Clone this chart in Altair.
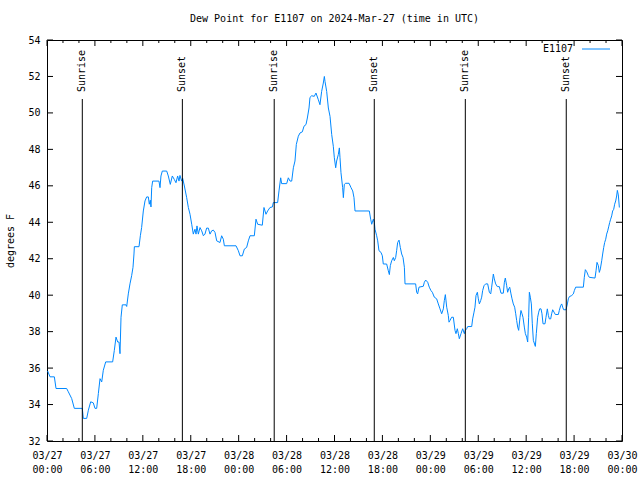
import altair as alt
import pandas as pd

FONT = "DejaVu Sans Mono"
W, H = 575, 401
LINE_COLOR = "#0088ff"

station = "E1107"
title_text = "Dew Point for E1107 on 2024-Mar-27 (time in UTC)"

# hours since 2024-03-27 00:00 UTC, dew point (F)
hours_a = [0.08, 0.38, 0.92, 1.13, 2.46, 2.67, 3.09, 3.42, 4.42, 4.55, 4.97, 5.18, 5.47, 5.80, 6.01, 6.22,
           6.43, 6.64, 6.85, 7.05, 7.35, 8.22, 8.43, 8.64, 8.85, 9.02, 9.14, 9.27, 9.43, 9.89, 9.98, 10.18,
           10.39, 10.60, 10.77, 10.89, 10.94, 11.52, 11.69, 11.85, 12.06, 12.27, 12.48, 12.69, 12.81, 12.94,
           13.02, 13.11, 13.23, 14.02, 14.15, 14.27, 14.44, 14.99, 15.19, 15.44, 15.69, 15.94, 16.15, 16.36,
           16.53, 16.65, 16.86, 16.99, 17.20, 17.49, 17.70]
dew_a = [35.84, 35.52, 35.52, 34.88, 34.88, 34.70, 34.33, 33.79, 33.79, 33.24, 33.24, 33.69, 34.15, 34.09,
         33.79, 33.79, 34.60, 35.42, 35.24, 35.88, 36.34, 36.34, 36.97, 37.70, 37.43, 37.43, 36.79, 38.79,
         39.47, 39.47, 39.38, 40.07, 40.62, 41.07, 41.53, 42.26, 42.66, 42.66, 43.26, 43.71, 44.62, 45.17,
         45.39, 45.39, 44.99, 45.21, 44.84, 45.90, 46.26, 46.26, 45.90, 46.54, 46.81, 46.81, 46.54, 46.08,
         46.54, 46.35, 46.17, 46.54, 46.26, 46.57, 46.26, 46.41, 45.99, 45.35, 44.81]

hours_b = [17.91, 18.12, 18.32, 18.53, 18.66, 18.78, 18.95, 19.16, 19.37, 19.58, 19.78, 19.99, 20.20, 20.41,
           20.62, 20.83, 21.04, 21.25, 21.66, 21.87, 22.08, 22.21, 23.67, 23.96, 24.17, 24.46, 24.71, 25.00,
           25.21, 25.42, 25.96, 26.17, 26.38, 26.96, 27.17, 27.42, 27.63, 27.92, 28.22, 28.34, 28.88, 29.05,
           29.26, 29.38, 30.01, 30.22, 30.43, 30.64, 30.85, 31.05, 31.22, 31.47, 31.68, 31.97, 32.18, 32.43,
           32.60, 32.81, 32.93, 33.14, 33.47, 33.68, 33.98, 34.18, 34.39, 34.60, 34.73]
dew_b = [44.44, 43.89, 43.35, 43.62, 43.35, 43.80, 43.35, 43.71, 43.53, 43.26, 43.35, 43.68, 43.68, 43.35,
         43.53, 43.57, 43.44, 42.98, 42.89, 43.26, 43.07, 42.71, 42.71, 42.44, 42.16, 42.16, 42.53, 42.62,
         42.98, 43.26, 43.26, 44.17, 43.89, 43.84, 44.81, 44.44, 44.62, 44.81, 44.84, 45.08, 45.08, 45.72,
         46.44, 46.12, 46.12, 46.44, 46.26, 46.26, 46.99, 47.36, 48.27, 48.72, 48.90, 48.96, 49.27, 49.36,
         49.72, 50.27, 50.85, 50.94, 50.91, 51.09, 50.72, 50.45, 51.18, 51.64, 52.00]

hours_c = [34.81, 35.02, 35.23, 35.44, 35.65, 35.85, 35.98, 36.15, 36.27, 36.48,
           36.61, 36.69, 36.81, 37.02, 37.11, 37.23, 37.40, 37.82, 38.07, 38.28,
           38.44, 38.57, 40.36, 40.53, 40.66, 40.86, 40.99, 41.07, 41.28, 41.41,
           41.57, 41.82, 41.99, 42.11, 42.53, 42.74, 42.87, 42.99, 43.16, 43.37,
           43.49, 43.66, 43.78, 43.91, 44.08, 44.24, 44.41, 44.58, 44.75, 44.83,
           46.16, 46.29, 46.41, 46.58, 47.12, 47.25, 47.42, 47.67, 47.87, 48.08,
           48.25, 48.50, 48.79, 49.00, 49.21, 49.42, 49.63, 49.75, 49.88, 50.05,
           50.25, 50.34, 50.46, 50.67, 50.88, 51.09, 51.21, 51.38, 51.51, 51.63,
           51.84, 52.05, 52.26, 52.38, 52.55, 52.68, 53.18, 53.30, 53.47, 53.59]
dew_c = [51.73, 51.18, 50.27, 49.81, 48.81, 48.17, 47.54, 46.99, 47.36, 47.72,
         48.08, 47.54, 46.72, 45.90, 45.35, 46.08, 46.14, 46.14, 45.90, 45.72,
         45.35, 44.62, 44.62, 44.17, 43.89, 44.17, 43.99, 43.62, 43.26, 42.98,
         42.44, 42.35, 42.16, 41.71, 41.71, 41.34, 41.13, 41.62, 41.89, 42.07,
         41.89, 42.07, 42.44, 42.89, 43.02, 42.62, 42.26, 42.07, 41.53, 40.62,
         40.62, 40.16, 40.07, 40.44, 40.49, 40.71, 40.83, 40.71, 40.44, 40.25,
         40.16, 39.89, 39.80, 39.52, 39.25, 38.98, 39.25, 39.70, 40.03, 39.34,
         38.89, 38.52, 38.61, 38.79, 38.79, 38.07, 37.89, 38.16, 37.89, 37.61,
         37.89, 38.16, 37.89, 38.07, 38.16, 38.28, 38.28, 38.70, 39.07, 39.34]

hours_d = [53.72, 53.89, 54.01, 54.14, 54.30, 54.43, 54.55, 54.72, 54.93, 55.18,
           55.39, 55.56, 55.68, 55.81, 55.89, 56.01, 56.18, 56.39, 56.64, 56.85,
           57.14, 57.27, 57.39, 57.56, 57.68, 57.81, 57.94, 58.10, 58.23, 58.39,
           58.56, 58.69, 58.81, 58.94, 59.06, 59.23, 59.35, 59.48, 59.60, 59.77,
           59.90, 60.06, 60.19, 60.31, 60.40, 60.52, 60.65, 60.77, 60.90, 61.15,
           61.27, 61.44, 61.57, 61.69, 61.86, 61.98, 62.11, 62.36, 62.48, 62.65,
           62.78, 62.90, 63.07, 63.19, 63.32, 63.49, 63.65, 64.03, 64.15, 64.32,
           64.45, 64.57, 64.70, 64.99, 65.16, 65.28, 65.41, 65.70, 65.91, 66.03,
           66.20, 67.16, 67.28, 67.41, 67.58, 67.78, 67.91, 68.62, 68.75, 68.87,
           69.04, 69.16, 69.29, 69.46, 69.58, 69.71, 69.83, 69.96, 70.08, 70.21,
           70.33, 70.46, 70.58, 70.71, 70.83, 70.96, 71.08, 71.21, 71.33, 71.42,
           71.54, 71.67]
dew_d = [39.98, 40.16, 39.80, 39.52, 39.70, 39.89, 40.25, 40.52, 40.62, 40.62,
         40.16, 40.07, 40.44, 40.89, 41.16, 40.89, 40.62, 40.47, 40.47, 40.11,
         40.11, 40.71, 40.94, 40.52, 40.16, 40.34, 40.44, 40.07, 39.80, 39.52,
         39.34, 38.98, 38.61, 38.25, 38.07, 38.79, 39.16, 38.98, 38.79, 38.25,
         37.89, 37.70, 37.43, 38.79, 40.16, 39.89, 39.52, 38.43, 37.52, 37.19,
         37.89, 38.79, 39.07, 39.25, 39.25, 38.98, 38.43, 38.43, 38.79, 39.25,
         38.89, 38.70, 38.70, 38.98, 39.20, 39.07, 38.94, 38.94, 39.16, 39.43,
         39.52, 39.34, 39.20, 39.20, 39.52, 39.80, 39.92, 39.98, 40.07, 40.25,
         40.44, 40.44, 40.98, 41.40, 41.29, 41.07, 40.98, 40.94, 41.34, 41.80,
         41.62, 41.25, 41.44, 41.89, 42.26, 42.62, 42.89, 43.07, 43.35, 43.53,
         43.75, 43.99, 44.17, 44.35, 44.62, 44.71, 44.99, 45.17, 45.44, 45.75,
         45.50, 44.81]

# sunrise / sunset (hours since start)
sun_hours = [4.42, 16.95, 28.45, 40.98, 52.38, 65.02]
sun_labels = ["Sunrise", "Sunset", "Sunrise", "Sunset", "Sunrise", "Sunset"]

# axis ticks
major_hours = [0, 6, 12, 18, 24, 30, 36, 42, 48, 54, 60, 66, 72]
minor_hours = [2, 4, 8, 10, 14, 16, 20, 22, 26, 28, 32, 34, 38, 40, 44, 46, 50, 52, 56, 58, 62, 64, 68, 70]
tick_dates = ["03/27", "03/27", "03/27", "03/27", "03/28", "03/28", "03/28", "03/28",
              "03/29", "03/29", "03/29", "03/29", "03/30"]
tick_times = ["00:00", "06:00", "12:00", "18:00", "00:00", "06:00", "12:00", "18:00",
              "00:00", "06:00", "12:00", "18:00", "00:00"]
y_ticks = [32, 34, 36, 38, 40, 42, 44, 46, 48, 50, 52, 54]

df = pd.DataFrame({"hour": hours_a + hours_b + hours_c + hours_d,
                   "dew": dew_a + dew_b + dew_c + dew_d})
sun_df = pd.DataFrame({"hour": sun_hours, "event": sun_labels})
major_df = pd.DataFrame({"hour": major_hours})
minor_df = pd.DataFrame({"hour": minor_hours})
ytick_df = pd.DataFrame({"dew": y_ticks})
legend_df = pd.DataFrame({"name": [station]})

label_expr = "[" + ",".join(f"['{d}','{t}']" for d, t in zip(tick_dates, tick_times)) + \
             "][round(datum.value/6)]"

xscale = alt.Scale(domain=[0, 72], nice=False, zero=False)
yscale = alt.Scale(domain=[32, 54], nice=False, zero=False)

x_axis = alt.Axis(values=major_hours, labelExpr=label_expr, ticks=False, domain=False, grid=False,
                  title=None, labelFont=FONT, labelFontSize=10, labelColor="black", labelPadding=9,
                  labelLineHeight=14, labelOverlap=False, labelBound=False, labelFlush=False)
y_axis = alt.Axis(values=y_ticks, ticks=False, domain=False, grid=False, title="degrees F",
                  titleFont=FONT, titleFontSize=10, titleFontWeight="normal", titleColor="black",
                  titlePadding=12, labelFont=FONT, labelFontSize=10, labelColor="black",
                  labelPadding=7, labelOverlap=False, labelBound=False, labelFlush=False)

X = alt.X("hour:Q", scale=xscale, axis=x_axis)
Y = alt.Y("dew:Q", scale=yscale, axis=y_axis)

line = alt.Chart(df).mark_line(color=LINE_COLOR, strokeWidth=1).encode(x=X, y=Y)

def xrule(data, y0, y1):
    return alt.Chart(data).mark_rule(color="black", strokeWidth=1).encode(
        x=X, y=alt.value(y0), y2=alt.value(y1))

def yrule(x0, x1):
    return alt.Chart(ytick_df).mark_rule(color="black", strokeWidth=1).encode(
        y=Y, x=alt.value(x0), x2=alt.value(x1))

ticks = [
    xrule(major_df, H, H - 6), xrule(major_df, 0, 6),
    xrule(minor_df, H, H - 3), xrule(minor_df, 0, 3),
    yrule(0, 6), yrule(W, W - 6),
]

sun_rules = alt.Chart(sun_df).mark_rule(color="black", strokeWidth=1).encode(
    x=X, y=alt.value(59), y2=alt.value(H))
sun_text = alt.Chart(sun_df).mark_text(angle=270, align="left", baseline="middle", font=FONT,
                                       fontSize=10, color="black").encode(
    x=X, y=alt.value(52), text="event:N")

legend_text = alt.Chart(legend_df).mark_text(align="right", baseline="middle", font=FONT,
                                             fontSize=10, color="black").encode(
    x=alt.value(526), y=alt.value(9), text="name:N")
legend_line = alt.Chart(legend_df).mark_rule(color=LINE_COLOR, strokeWidth=1).encode(
    x=alt.value(535), x2=alt.value(563), y=alt.value(9))

chart = alt.layer(line, *ticks, sun_rules, sun_text, legend_text, legend_line).properties(
    width=W, height=H,
    title=alt.TitleParams(title_text, font=FONT, fontSize=10, fontWeight="normal", color="black",
                          anchor="middle", frame="group", baseline="alphabetic", offset=3),
    autosize=alt.AutoSizeParams(type="none"),
    padding={"left": 47, "top": 40, "right": 18, "bottom": 39},
    background="white",
).configure_view(stroke="black", strokeWidth=1)

chart.save("out.html", embed_options={"renderer": "svg", "actions": False})
